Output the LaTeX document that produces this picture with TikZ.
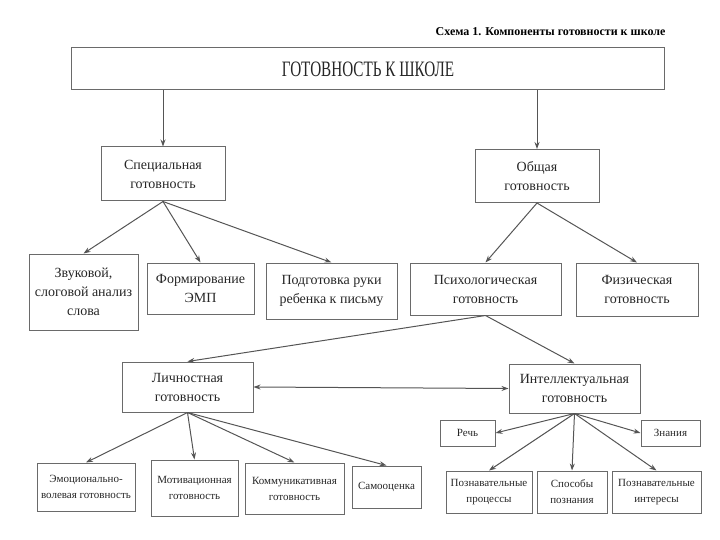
\documentclass[tikz,border=0pt]{standalone}
\usepackage{fontspec}
\setmainfont{Liberation Serif}
\newfontfamily\titlefont[FakeStretch=0.69]{Liberation Serif}
\usetikzlibrary{arrows.meta}

\definecolor{boxgray}{HTML}{6A6A6A}
\definecolor{linegray}{HTML}{555555}

\tikzstyle{block} = [rectangle, draw=boxgray, line width=1pt, align=center, inner sep=2pt, text=black!85, font=\fontsize{14}{19}\selectfont]
\tikzstyle{small} = [block, font=\fontsize{11}{16}\selectfont]
\tikzstyle{link} = [draw=linegray, line width=1pt, -{Stealth[length=7pt,width=5pt]}]

\begin{document}
\begin{tikzpicture}[x=1pt, y=-1pt]
        \useasboundingbox (0,0) rectangle (720,540);
        % Caption and main box
        \node (caption) at (669,32) [anchor=east, font=\bfseries\fontsize{12}{14}\selectfont] {Схема 1. Компоненты готовности к школе};
        \node (title) at (368,69) [block, minimum width=593pt, minimum height=42pt, font=\titlefont\fontsize{22}{26}\selectfont] {ГОТОВНОСТЬ К ШКОЛЕ};

        % Second level
        \node (spec) at (163,174) [block, minimum width=124pt, minimum height=54pt] {Специальная\\готовность};
        \node (obsh) at (537,176) [block, minimum width=124pt, minimum height=53pt] {Общая\\готовность};

        % Third level
        \node (zvuk) at (83.5,292) [block, minimum width=109pt, minimum height=76pt] {Звуковой,\\слоговой анализ\\слова};
        \node (emp) at (200.5,288.5) [block, minimum width=107pt, minimum height=51pt] {Формирование\\ЭМП};
        \node (ruka) at (331.5,291) [block, minimum width=131pt, minimum height=56pt] {Подготовка руки\\ребенка к письму};
        \node (psych) at (485.5,289) [block, minimum width=151pt, minimum height=52pt] {Психологическая\\готовность};
        \node (fiz) at (637,289.5) [block, minimum width=122pt, minimum height=53pt] {Физическая\\готовность};

        % Fourth level
        \node (lich) at (187.5,387) [block, minimum width=131pt, minimum height=50pt] {Личностная\\готовность};
        \node (intel) at (574.5,388.5) [block, minimum width=131pt, minimum height=49pt] {Интеллектуальная\\готовность};

        % Bottom row
        \node (emo) at (86,487) [small, minimum width=98pt, minimum height=48pt] {Эмоционально-\\волевая готовность};
        \node (motiv) at (194.5,488) [small, minimum width=87pt, minimum height=56pt] {Мотивационная\\готовность};
        \node (komm) at (294.5,488.5) [small, minimum width=99pt, minimum height=51pt] {Коммуникативная\\готовность};
        \node (samo) at (386.5,487) [small, minimum width=69pt, minimum height=42pt] {Самооценка};
        \node (rech) at (467.5,433) [small, minimum width=55pt, minimum height=26pt] {Речь};
        \node (znan) at (670.5,433) [small, minimum width=59pt, minimum height=26pt] {Знания};
        \node (pproc) at (489,492) [small, minimum width=86pt, minimum height=42pt] {Познавательные\\процессы};
        \node (spos) at (572,492) [small, minimum width=70pt, minimum height=42pt] {Способы\\познания};
        \node (pint) at (656.5,492) [small, minimum width=89pt, minimum height=42pt] {Познавательные\\интересы};

        % Connectors
        \draw[link] (title.south -| spec.north) -- (spec.north);
        \draw[link] (title.south -| obsh.north) -- (obsh.north);
        \foreach \t in {zvuk, emp, ruka}
            \draw[link] (spec.south) -- (\t.north);
        \foreach \t in {psych, fiz}
            \draw[link] (obsh.south) -- (\t.north);
        \foreach \t in {lich, intel}
            \draw[link] (psych.south) -- (\t.north);
        \draw[link, {Stealth[length=7pt,width=5pt]}-{Stealth[length=7pt,width=5pt]}] (lich.east) -- (intel.west);
        \foreach \t in {emo, motiv, komm, samo}
            \draw[link] (lich.south) -- (\t.north);
        \draw[link] (intel.south) -- (rech.east);
        \draw[link] (intel.south) -- (znan.west);
        \foreach \t in {pproc, spos, pint}
            \draw[link] (intel.south) -- (\t.north);
\end{tikzpicture}
\end{document}
